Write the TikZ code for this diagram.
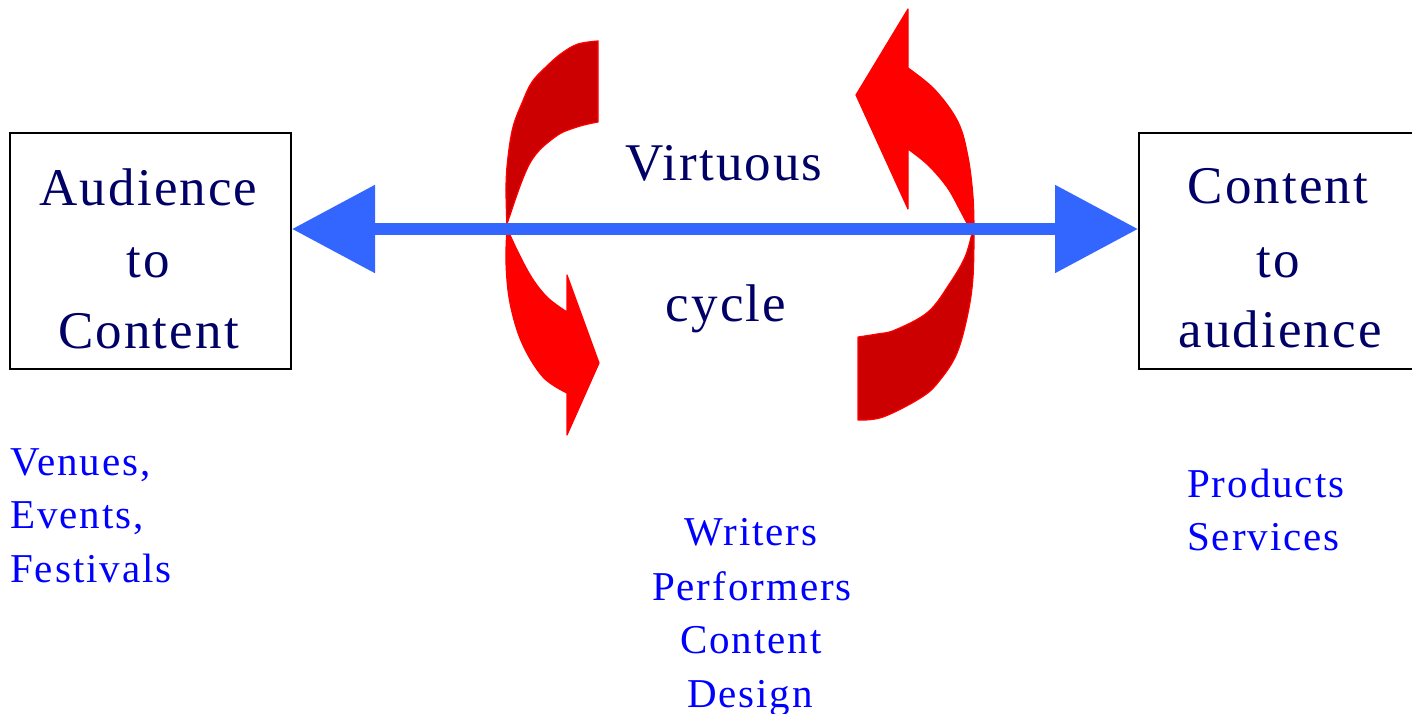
\documentclass[tikz,border=0pt]{standalone}
\usepackage{fontspec}
\setmainfont{Liberation Serif}
\newfontfamily\bigfont[LetterSpace=4]{Liberation Serif}
\newfontfamily\smallfont[LetterSpace=4.8]{Liberation Serif}
\usetikzlibrary{arrows.meta}
\definecolor{navy}{RGB}{0,0,102}
\definecolor{txtblue}{RGB}{0,0,255}
\definecolor{arrowblue}{RGB}{51,102,255}
\definecolor{darkred}{RGB}{204,0,0}
\definecolor{brightred}{RGB}{255,0,0}
\tikzset{
  bigtext/.style={font=\bigfont\fontsize{53}{60}\selectfont, text=navy, anchor=base, inner sep=0pt},
  smalltext/.style={font=\smallfont\fontsize{41}{48}\selectfont, text=txtblue, inner sep=0pt},
  box/.style={draw=black, line width=2pt, minimum width=281pt, minimum height=236pt, inner sep=0pt},
  bluearrow/.style={draw=arrowblue, line width=12.5pt,
    {Triangle[length=83pt,width=85pt]}-{Triangle[length=83pt,width=85pt]}},
  darkface/.style={fill=darkred, draw=brightred, line width=1.2pt, line join=round},
  lightface/.style={fill=brightred, draw=brightred, line width=1.2pt, line join=round}
}
\begin{document}
\begin{tikzpicture}[x=1pt,y=-1pt]
\clip (0,0) rectangle (1412,714);
\useasboundingbox (0,0) rectangle (1412,714);

% boxes
\node[box] (la) at (150.5,251) {};
\node[box] (ra) at (1279.5,251) {};

\node[bigtext] (la1) at (148.5,205) {Audience};
\node[bigtext] (la2) at (148.5,277) {to};
\node[bigtext] (la3) at (148.5,348) {Content};

\node[bigtext] (ra1) at (1278,203) {Content};
\node[bigtext] (ra2) at (1278,277) {to};
\node[bigtext] (ra3) at (1280,347) {audience};

\node[bigtext] (v1) at (724,180) {Virtuous};
\node[bigtext] (v2) at (726,321) {cycle};

% red curved arrows
\filldraw[darkface] (598,41) -- (598,122) -- plot[smooth, tension=0.6] coordinates {(598,122) (577,127) (555,137) (530,163) (509,218) (507,228)}
  -- plot[smooth, tension=0.6] coordinates {(507,228) (506,187) (508,157) (513,127) (522,103) (532,82) (548,65) (562,53) (578,44) (598,41)} -- cycle;
\filldraw[lightface] (507,228) -- plot[smooth, tension=0.6] coordinates {(507,228) (506,263) (510,303) (522,343) (543,377) (567,393)}
  -- (567,435) -- (599,363) -- (567,275) -- (567,312)
  -- plot[smooth, tension=0.6] coordinates {(567,312) (548,298) (532,278) (517,250) (507,228)} -- cycle;

\filldraw[lightface] (972,233) -- plot[smooth, tension=0.6] coordinates {(972,233) (960,210) (947,187) (928,165) (908,149)}
  -- (908,209) -- (856,95) -- (908,9) -- (908,68)
  -- plot[smooth, tension=0.6] coordinates {(908,68) (935,90) (958,122) (968,157) (973,197) (974,233)} -- cycle;
\filldraw[darkface] (974,233) -- plot[smooth, tension=0.6] coordinates {(974,233) (973,277) (968,313) (957,353) (940,380) (922,397) (883,417) (858,420)}
  -- (858,337) -- plot[smooth, tension=0.6] coordinates {(858,337) (877,334) (895,330) (928,312) (950,283) (965,257) (972,233)} -- cycle;

% blue double arrow
\draw[bluearrow] ([yshift=22pt]la.east) -- ([yshift=22pt]ra.west);

% blue labels
\node[smalltext, anchor=base west] (l1) at (10,475) {Venues,};
\node[smalltext, anchor=base west] (l2) at (10,528) {Events,};
\node[smalltext, anchor=base west] (l3) at (10,582) {Festivals};

\node[smalltext, anchor=base] (m1) at (751,545) {Writers};
\node[smalltext, anchor=base] (m2) at (752,600) {Performers};
\node[smalltext, anchor=base] (m3) at (751,653) {Content};
\node[smalltext, anchor=base] (m4) at (750,707) {Design};

\node[smalltext, anchor=base west] (r1) at (1187,497) {Products};
\node[smalltext, anchor=base west] (r2) at (1187,550) {Services};
\end{tikzpicture}
\end{document}
